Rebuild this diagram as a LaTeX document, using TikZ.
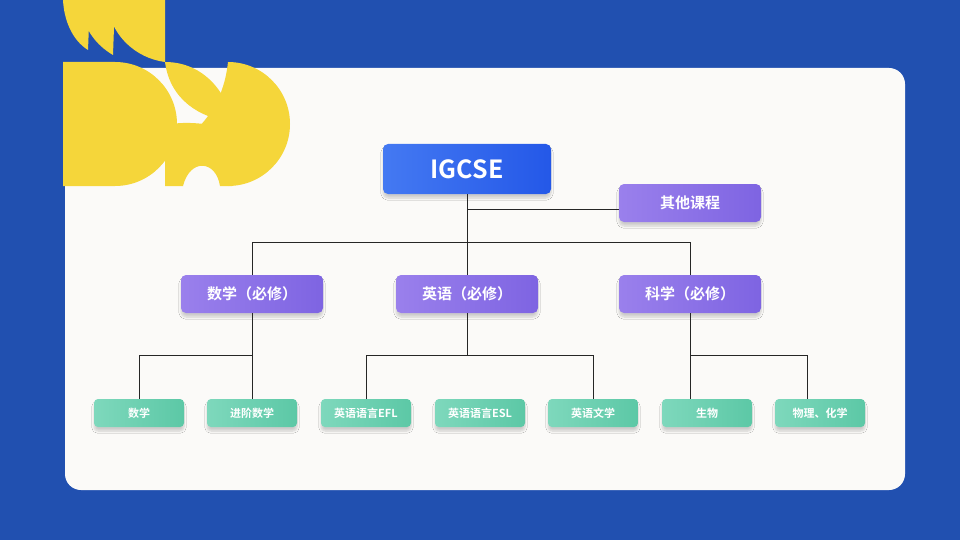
\documentclass[tikz,border=0pt]{standalone}
\usepackage{fontspec}
\setmainfont{Noto Sans CJK SC}
\newfontfamily\cjkb{Noto Sans CJK SC Bold}
\usetikzlibrary{shadows.blur}
\definecolor{bgblue}{HTML}{2150B0}
\definecolor{ylw}{HTML}{F5D63A}
\definecolor{panel}{HTML}{FBFAF8}
\definecolor{pur1}{HTML}{9A80EC}
\definecolor{pur2}{HTML}{7E64E2}
\definecolor{blu1}{HTML}{4479F2}
\definecolor{blu2}{HTML}{2458E8}
\definecolor{grn1}{HTML}{7ED8BC}
\definecolor{grn2}{HTML}{5CC8A6}
\tikzset{
  base/.style={rounded corners=5pt, text=white, font=\cjkb, blur shadow={shadow blur steps=8, shadow xshift=0pt, shadow yshift=-4pt, shadow opacity=18}},
  topbox/.style={base, minimum width=168pt, minimum height=50pt, left color=blu1, right color=blu2, font=\cjkb\fontsize{25}{28}\selectfont},
  midbox/.style={base, minimum width=142pt, minimum height=38pt, left color=pur1, right color=pur2, font=\cjkb\fontsize{15}{18}\selectfont},
  leafbox/.style={base, rounded corners=4pt, minimum width=90pt, minimum height=28pt, left color=grn1, right color=grn2, font=\cjkb\fontsize{11}{13}\selectfont},
  conn/.style={draw=black!85, line width=1pt}
}
\begin{document}
\begin{tikzpicture}[x=1pt,y=-1pt]
\useasboundingbox (0,0) rectangle (960,540);
\fill[bgblue] (0,0) rectangle (960,540);
\fill[panel, rounded corners=16pt] (65,68) rectangle (905,490);
% yellow decoration: top fins
\fill[ylw] (63,0) -- (90,0) -- (88,50) .. controls (72,40) and (64,20) .. (63,0) -- cycle;
\fill[ylw] (80,0) -- (115,0) -- (113,55) .. controls (96,45) and (85,30) .. (80,8) -- cycle;
\fill[ylw] (108,0) -- (165,0) -- (165,62) .. controls (135,58) and (112,35) .. (108,8) -- cycle;
% lower-left half disc
\fill[ylw] (63,62) -- (115,62) arc[start angle=-90,end angle=90,radius=62] -- (63,186) -- cycle;
% middle leaves
\fill[ylw] (165,62) .. controls (205,62) and (228,95) .. (232,122) .. controls (200,118) and (170,100) .. (165,62) -- cycle;
\fill[ylw] (165,186) -- (165,125) .. controls (190,120) and (215,125) .. (232,130) -- (232,186) -- (220,186) .. controls (216,160) and (190,158) .. (183,186) -- cycle;
% right half disc
\fill[ylw] (228,62) arc[start angle=-90,end angle=90,radius=62] .. controls (222,170) and (208,145) .. (198,128) .. controls (215,110) and (225,90) .. (228,62) -- cycle;
% nodes
\node[topbox] (ig) at (467,169) {IGCSE};
\node[midbox] (qt) at (690,203) {其他课程};
\node[midbox] (sx) at (252,294) {数学（必修）};
\node[midbox] (yy) at (467,294) {英语（必修）};
\node[midbox] (kx) at (690,294) {科学（必修）};
\node[leafbox] (l1) at (139,413) {数学};
\node[leafbox] (l2) at (252,413) {进阶数学};
\node[leafbox] (l3) at (366,413) {英语语言EFL};
\node[leafbox] (l4) at (480,413) {英语语言ESL};
\node[leafbox] (l5) at (593,413) {英语文学};
\node[leafbox] (l6) at (707,413) {生物};
\node[leafbox] (l7) at (820,413) {物理、化学};
% connectors
\coordinate (b0) at (467,242);
\coordinate (q0) at (467,209);
\draw[conn] (ig.south) -- (b0);
\draw[conn] (q0) -- (q0 -| qt.west);
\draw[conn] (sx.north) -- (252,242) -- (690,242) -- (kx.north);
\draw[conn] (b0) -- (yy.north);
\draw[conn] (sx.south) -- (252,355) -- (139,355) -- (l1.north);
\draw[conn] (252,355) -- (l2.north);
\draw[conn] (yy.south) -- (467,355);
\draw[conn] (l3.north) -- (366,355) -- (593,355) -- (l5.north);
\coordinate (s1) at (690,399);
\coordinate (s2) at (807,399);
\draw[conn] (kx.south) -- (690,355) -- (807,355) -- (s2);
\draw[conn] (690,355) -- (s1);
\end{tikzpicture}
\end{document}
